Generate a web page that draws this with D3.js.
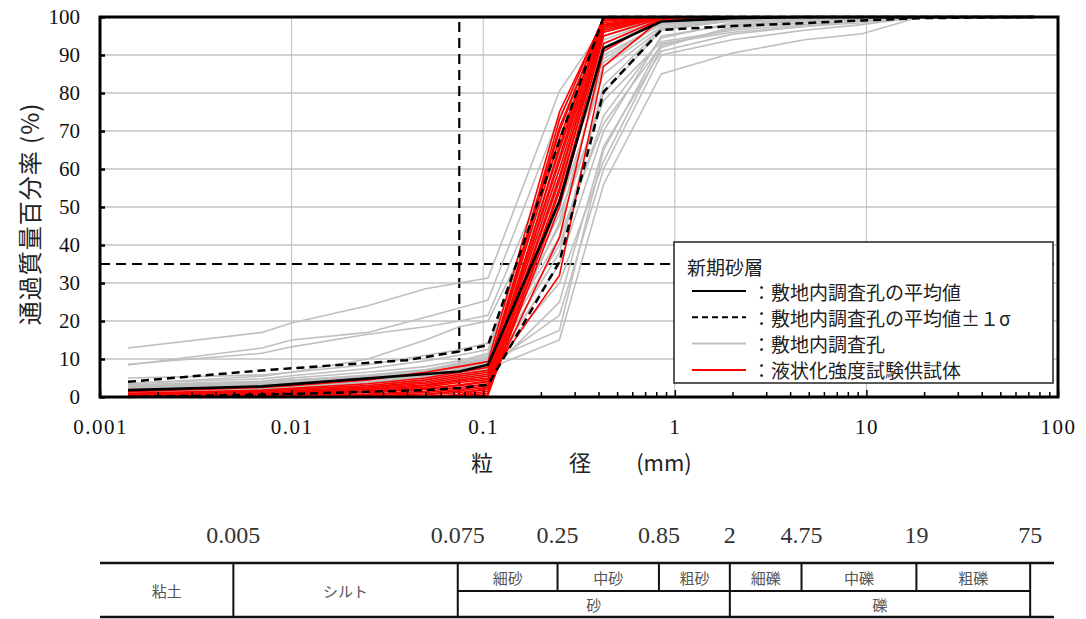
<!DOCTYPE html>
<html><head><meta charset="utf-8">
<script src="https://cdn.jsdelivr.net/npm/d3@7"></script>
<style>body{margin:0;background:#fff}</style>
</head><body>
<svg id="chart" width="1086" height="619"></svg>
<script>
// ---------------- data ----------------
const sizes = [0.0014, 0.007, 0.01, 0.025, 0.05, 0.075, 0.106, 0.25, 0.425, 0.85, 2, 4.75, 9.5, 19, 75];

const meanSizes  = [0.0014, 0.007, 0.075, 0.106, 0.25, 0.425, 0.85, 2, 4.75, 75];
const meanValues = [1.8, 2.8, 6.7, 8.5, 51.5, 91.8, 98.8, 99.7, 100, 100];

const upperSizes  = [0.0014, 0.007, 0.04, 0.075, 0.106, 0.25, 0.425, 0.85, 75];
const upperValues = [4.0, 7.0, 9.7, 12.0, 13.7, 67.5, 100, 100, 100];

const lowerSizes  = [0.0014, 0.007, 0.05, 0.075, 0.106, 0.25, 0.425, 0.85, 2, 4.75, 9.5, 19, 75];
const lowerValues = [0.0, 0.6, 1.8, 2.4, 3.2, 35.6, 80.3, 96.6, 97.6, 98.4, 99.1, 99.7, 100];

const boreholeSeries = [
  [12.9, 17.0, 19.5, 24.0, 28.5, 30.0, 31.3, 80.5, 97.5, 99.6, 100, 100, 100, 100, 100],
  [8.4, 12.9, 15.0, 17.0, 21.0, 23.4, 25.5, 74.0, 95.0, 99.2, 100, 100, 100, 100, 100],
  [8.6, 11.5, 13.2, 16.5, 18.5, 20.0, 21.5, 66.0, 93.0, 99.0, 99.8, 100, 100, 100, 100],
  [3.5, 5.5, 6.5, 10.0, 15.0, 18.5, 20.0, 58.0, 89.0, 98.5, 99.6, 100, 100, 100, 100],
  [5.0, 5.8, 6.5, 8.5, 11.0, 12.4, 14.2, 55.0, 87.0, 97.5, 99.3, 100, 100, 100, 100],
  [2.5, 3.5, 4.0, 5.5, 7.0, 8.5, 10.5, 45.0, 80.0, 96.5, 99.0, 99.6, 100, 100, 100],
  [2.0, 3.0, 3.5, 4.5, 6.0, 7.5, 9.0, 40.0, 74.0, 94.5, 98.5, 99.3, 100, 100, 100],
  [1.5, 2.5, 3.0, 4.0, 5.5, 7.0, 8.5, 62.0, 96.0, 99.5, 100, 100, 100, 100, 100],
  [3.0, 4.0, 4.5, 5.5, 7.0, 9.0, 11.0, 70.0, 97.0, 99.7, 100, 100, 100, 100, 100],
  [1.0, 2.0, 2.5, 3.5, 5.0, 6.5, 8.0, 30.0, 62.0, 92.0, 97.5, 99.0, 99.6, 100, 100],
  [2.5, 3.5, 4.0, 5.0, 6.0, 7.0, 7.5, 15.0, 56.0, 85.0, 90.5, 94.0, 95.6, 100, 100],
  [1.8, 2.6, 3.2, 4.2, 5.5, 6.8, 8.0, 21.5, 60.0, 90.0, 94.0, 96.5, 98.0, 100, 100],
  [2.2, 3.0, 3.6, 4.6, 6.0, 7.8, 9.5, 17.5, 65.0, 93.0, 96.0, 97.5, 99.0, 100, 100],
  [1.2, 2.0, 2.5, 3.5, 4.5, 5.5, 6.5, 35.0, 70.0, 95.0, 98.0, 99.0, 99.5, 100, 100],
  [2.8, 3.8, 4.4, 5.8, 7.2, 8.8, 10.0, 50.0, 85.0, 97.0, 99.0, 100, 100, 100, 100],
  [1.6, 2.4, 3.0, 4.0, 5.0, 6.0, 7.0, 52.0, 90.0, 98.0, 99.5, 100, 100, 100, 100],
  [2.0, 2.8, 3.3, 4.4, 5.8, 7.2, 9.0, 60.0, 92.0, 99.0, 100, 100, 100, 100, 100],
  [3.2, 4.2, 5.0, 6.5, 8.0, 9.5, 11.5, 48.0, 78.0, 93.5, 96.5, 98.0, 99.0, 100, 100],
  [1.4, 2.2, 2.8, 3.8, 5.2, 6.4, 7.5, 38.0, 82.0, 97.0, 99.0, 99.7, 100, 100, 100],
  [2.4, 3.2, 3.8, 5.0, 6.4, 8.0, 9.8, 56.0, 94.0, 99.4, 100, 100, 100, 100, 100],
  [1.0, 1.8, 2.2, 3.0, 4.2, 5.2, 6.2, 25.0, 66.0, 91.0, 95.5, 97.5, 98.5, 100, 100],
  [3.6, 4.8, 5.6, 7.5, 9.5, 11.0, 12.5, 64.0, 95.0, 99.5, 100, 100, 100, 100, 100],
  [2.6, 3.4, 4.0, 5.2, 6.6, 8.2, 10.2, 42.0, 72.0, 92.5, 97.0, 98.5, 99.5, 100, 100],
  [1.7, 2.5, 3.0, 4.0, 5.2, 6.2, 7.2, 58.0, 93.0, 99.0, 99.8, 100, 100, 100, 100],
  [0.8, 1.5, 2.0, 2.8, 3.8, 4.8, 5.5, 46.0, 88.0, 98.5, 99.7, 100, 100, 100, 100],
  [2.2, 3.2, 3.7, 4.8, 6.2, 7.6, 8.8, 67.0, 97.5, 100, 100, 100, 100, 100, 100]
];

const specimenSeries = [
  [1.4, 2.5, 3.0, 4.5, 6.5, 8.0, 9.3, 75.0, 99.5, 100, 100, 100, 100, 100, 100],
  [1.0, 1.8, 2.3, 3.5, 5.0, 6.5, 7.8, 71.0, 99.0, 100, 100, 100, 100, 100, 100],
  [0.5, 1.2, 1.6, 2.6, 4.0, 5.5, 6.5, 68.0, 98.5, 100, 100, 100, 100, 100, 100],
  [0.3, 0.8, 1.2, 2.0, 3.2, 4.5, 5.5, 65.0, 98.0, 100, 100, 100, 100, 100, 100],
  [0.2, 0.6, 1.0, 1.6, 2.6, 3.8, 4.6, 62.0, 97.5, 100, 100, 100, 100, 100, 100],
  [0.0, 0.3, 0.6, 1.2, 2.0, 3.0, 4.0, 60.0, 97.0, 100, 100, 100, 100, 100, 100],
  [0.0, 0.0, 0.2, 0.6, 1.2, 2.0, 3.0, 58.0, 96.5, 99.8, 100, 100, 100, 100, 100],
  [0.0, 0.0, 0.0, 0.2, 0.6, 1.2, 2.0, 55.0, 96.0, 100, 100, 100, 100, 100, 100],
  [0.0, 0.0, 0.0, 0.0, 0.2, 0.6, 1.5, 52.0, 95.0, 99.7, 100, 100, 100, 100, 100],
  [0.0, 0.0, 0.0, 0.0, 0.0, 0.3, 1.0, 50.0, 93.0, 99.5, 100, 100, 100, 100, 100],
  [0.0, 0.0, 0.0, 0.0, 0.0, 0.5, 2.5, 42.0, 91.0, 99.5, 100, 100, 100, 100, 100],
  [0.5, 1.0, 1.3, 2.0, 3.0, 4.2, 5.0, 32.0, 87.0, 99.5, 100, 100, 100, 100, 100],
  [0.8, 1.5, 2.0, 3.0, 4.5, 6.0, 7.0, 70.0, 100, 100, 100, 100, 100, 100, 100],
  [0.0, 0.2, 0.4, 0.8, 1.5, 2.5, 3.5, 66.0, 99.5, 100, 100, 100, 100, 100, 100],
  [0.2, 0.5, 0.8, 1.4, 2.2, 3.2, 4.2, 63.0, 99.0, 100, 100, 100, 100, 100, 100],
  [0.0, 0.0, 0.0, 0.3, 0.8, 1.6, 2.6, 57.0, 98.0, 100, 100, 100, 100, 100, 100],
  [0.0, 0.0, 0.0, 0.0, 0.0, 0.0, 0.5, 54.0, 97.5, 100, 100, 100, 100, 100, 100],
  [0.6, 1.1, 1.5, 2.4, 3.6, 5.0, 6.0, 73.0, 100, 100, 100, 100, 100, 100, 100]
];

const yTickValues = [0, 10, 20, 30, 40, 50, 60, 70, 80, 90, 100];
const xTickValues = [0.001, 0.01, 0.1, 1, 10, 100];
const xTickLabels = ["0.001", "0.01", "0.1", "1", "10", "100"];
const finesLimit = 0.075;
const referencePercent = 35;

const legendTitle = "新期砂層";
const legendLabels = ["：敷地内調査孔の平均値", "：敷地内調査孔の平均値±１σ", "：敷地内調査孔", "：液状化強度試験供試体"];

const boundarySizes  = [0.005, 0.075, 0.25, 0.85, 2, 4.75, 19, 75];
const boundaryLabels = ["0.005", "0.075", "0.25", "0.85", "2", "4.75", "19", "75"];
const fullBoundaries = [0.005, 0.075, 2, 75];
const halfBoundaries = [0.25, 0.85, 4.75, 19];
const upperClasses = [["細砂", 0.075, 0.25], ["中砂", 0.25, 0.85], ["粗砂", 0.85, 2],
                      ["細礫", 2, 4.75], ["中礫", 4.75, 19], ["粗礫", 19, 75]];
const lowerClasses = [["砂", 0.075, 2], ["礫", 2, 75]];
const fullClasses  = [["粘土", 0.001, 0.005], ["シルト", 0.005, 0.075]];

// ---------------- drawing ----------------
const svg = d3.select("#chart");
const serif = "'Liberation Serif','DejaVu Serif',serif";
const cjk = "'Noto Sans CJK JP','Noto Sans',sans-serif";

const L = 100, R = 1058, T = 17, B = 397;
const x = d3.scaleLog().domain([0.001, 100]).range([L, R]);
const y = d3.scaleLinear().domain([0, 100]).range([B, T]);

// grid
const grid = svg.append("g");
grid.selectAll("line.h").data(yTickValues.filter(v => v > 0 && v < 100)).join("line")
  .attr("x1", L).attr("x2", R).attr("y1", d => y(d)).attr("y2", d => y(d))
  .attr("stroke", "#a3a3a3").attr("stroke-width", 1);
grid.selectAll("line.v").data(xTickValues.filter(v => v > 0.001 && v < 100)).join("line")
  .attr("y1", T).attr("y2", B).attr("x1", d => x(d)).attr("x2", d => x(d))
  .attr("stroke", "#bdbdbd").attr("stroke-width", 1);

// reference lines
svg.append("line").attr("x1", x(finesLimit)).attr("x2", x(finesLimit)).attr("y1", T + 5).attr("y2", B)
  .attr("stroke", "#000").attr("stroke-width", 2.2).attr("stroke-dasharray", "10,6");
svg.append("line").attr("x1", L).attr("x2", R).attr("y1", y(referencePercent)).attr("y2", y(referencePercent))
  .attr("stroke", "#000").attr("stroke-width", 2.2).attr("stroke-dasharray", "10,6");

const line = d3.line().x(d => x(d[0])).y(d => y(d[1]));
svg.append("clipPath").attr("id", "clip").append("rect")
  .attr("x", L).attr("y", T - 2).attr("width", R - L).attr("height", B - T + 4);
const plot = svg.append("g").attr("clip-path", "url(#clip)");

plot.selectAll("path.grey").data(boreholeSeries).join("path")
  .attr("d", s => line(s.map((v, i) => [sizes[i], v])))
  .attr("fill", "none").attr("stroke", "#bfbfbf").attr("stroke-width", 1.6);
plot.selectAll("path.red").data(specimenSeries).join("path")
  .attr("d", s => line(s.map((v, i) => [sizes[i], v])))
  .attr("fill", "none").attr("stroke", "#ff0000").attr("stroke-width", 1.6);

plot.append("path").attr("d", line(upperSizes.map((s, i) => [s, upperValues[i]])))
  .attr("fill", "none").attr("stroke", "#000").attr("stroke-width", 2.5).attr("stroke-dasharray", "8,5");
plot.append("path").attr("d", line(lowerSizes.map((s, i) => [s, lowerValues[i]])))
  .attr("fill", "none").attr("stroke", "#000").attr("stroke-width", 2.5).attr("stroke-dasharray", "8,5");
plot.append("path").attr("d", line(meanSizes.map((s, i) => [s, meanValues[i]])))
  .attr("fill", "none").attr("stroke", "#000").attr("stroke-width", 2.6);

// legend
const lg = svg.append("g");
lg.append("rect").attr("x", 674).attr("y", 242).attr("width", 379).attr("height", 141)
  .attr("fill", "#fff").attr("stroke", "#222").attr("stroke-width", 1.5);
lg.append("text").attr("x", 687).attr("y", 266).attr("dominant-baseline", "central")
  .attr("font-family", cjk).attr("font-size", 19).attr("fill", "#222").text(legendTitle);
const legendStyles = [
  {stroke: "#000", dash: null, w: 2},
  {stroke: "#000", dash: "6,4", w: 2},
  {stroke: "#bfbfbf", dash: null, w: 2},
  {stroke: "#ff0000", dash: null, w: 2}
];
legendLabels.forEach((lab, i) => {
  const yy = 291 + i * 26.3;
  const st = legendStyles[i];
  lg.append("line").attr("x1", 692).attr("x2", 746).attr("y1", yy).attr("y2", yy)
    .attr("stroke", st.stroke).attr("stroke-width", st.w).attr("stroke-dasharray", st.dash);
  lg.append("text").attr("x", 752).attr("y", yy).attr("dominant-baseline", "central")
    .attr("font-family", cjk).attr("font-size", 19).attr("fill", "#222").text(lab);
});

// axes
const yAxis = d3.axisLeft(y).tickValues(yTickValues).tickSizeInner(-5).tickSizeOuter(0).tickPadding(20).tickFormat(d3.format("d"));
const gy = svg.append("g").attr("transform", `translate(${L},0)`).call(yAxis);
gy.select(".domain").remove();
gy.selectAll(".tick line").attr("stroke", "#000").attr("stroke-width", 2.5);
gy.selectAll("text").attr("font-family", serif).attr("font-size", 21).attr("fill", "#111");

const xMinor = [];
xTickValues.slice(0, -1).forEach(d => { for (let k = 2; k <= 9; k++) xMinor.push(d * k); });
const gxm = svg.append("g").attr("transform", `translate(0,${B})`)
  .call(d3.axisBottom(x).tickValues(xMinor).tickSizeInner(-5).tickSizeOuter(0).tickFormat(""));
gxm.select(".domain").remove();
gxm.selectAll(".tick line").attr("stroke", "#000").attr("stroke-width", 1.5);

const gx = svg.append("g").attr("transform", `translate(0,${B})`)
  .call(d3.axisBottom(x).tickValues(xTickValues).tickSizeInner(-7).tickSizeOuter(0).tickPadding(22)
    .tickFormat((d, i) => xTickLabels[i]));
gx.select(".domain").remove();
gx.selectAll(".tick line").attr("stroke", "#000").attr("stroke-width", 1.5);
gx.selectAll("text").attr("font-family", serif).attr("font-size", 21).attr("fill", "#111")
  .attr("letter-spacing", 1.5);

// frame
svg.append("rect").attr("x", L).attr("y", T).attr("width", R - L).attr("height", B - T)
  .attr("fill", "none").attr("stroke", "#000").attr("stroke-width", 3);

// axis titles
svg.append("text").attr("transform", `translate(28,${214}) rotate(-90)`)
  .attr("text-anchor", "middle").attr("dominant-baseline", "central")
  .attr("font-family", cjk).attr("font-size", 24).attr("letter-spacing", 1).attr("fill", "#222")
  .text("通過質量百分率 (%)");
const xt = svg.append("text").attr("y", 461).attr("dominant-baseline", "central")
  .attr("font-family", cjk).attr("font-size", 22).attr("fill", "#222");
xt.append("tspan").attr("x", 482).attr("text-anchor", "middle").text("粒");
xt.append("tspan").attr("x", 580).attr("text-anchor", "middle").text("径");
xt.append("tspan").attr("x", 664).attr("text-anchor", "middle").text("(mm)");

// classification table
const xs = d3.scaleLog().domain([0.001, 100]).range([100, 1054]);
const tT = 563, tM = 591, tB = 617;
const tbl = svg.append("g");
tbl.selectAll("text.num").data(boundarySizes).join("text")
  .attr("x", d => xs(d)).attr("y", 535).attr("text-anchor", "middle").attr("dominant-baseline", "central")
  .attr("font-family", serif).attr("font-size", 24).attr("fill", "#333")
  .text((d, i) => boundaryLabels[i]);
tbl.append("line").attr("x1", xs(0.001)).attr("x2", xs(100)).attr("y1", tT).attr("y2", tT)
  .attr("stroke", "#111").attr("stroke-width", 2.5);
tbl.append("line").attr("x1", xs(0.001)).attr("x2", xs(100)).attr("y1", tB).attr("y2", tB)
  .attr("stroke", "#111").attr("stroke-width", 2.5);
tbl.append("line").attr("x1", xs(0.075)).attr("x2", xs(75)).attr("y1", tM).attr("y2", tM)
  .attr("stroke", "#111").attr("stroke-width", 2);
tbl.selectAll("line.full").data(fullBoundaries).join("line")
  .attr("x1", d => xs(d)).attr("x2", d => xs(d)).attr("y1", tT).attr("y2", tB)
  .attr("stroke", "#111").attr("stroke-width", 2);
tbl.selectAll("line.half").data(halfBoundaries).join("line")
  .attr("x1", d => xs(d)).attr("x2", d => xs(d)).attr("y1", tT).attr("y2", tM)
  .attr("stroke", "#111").attr("stroke-width", 2);
const cls = (arr, yy) => tbl.selectAll(null).data(arr).join("text")
  .attr("x", d => (xs(d[1]) + xs(d[2])) / 2).attr("y", yy)
  .attr("text-anchor", "middle").attr("dominant-baseline", "central")
  .attr("font-family", cjk).attr("font-size", 15).attr("fill", "#555").text(d => d[0]);
cls(fullClasses, 590);
cls(upperClasses, 577);
cls(lowerClasses, 604);
</script>
</body></html>
